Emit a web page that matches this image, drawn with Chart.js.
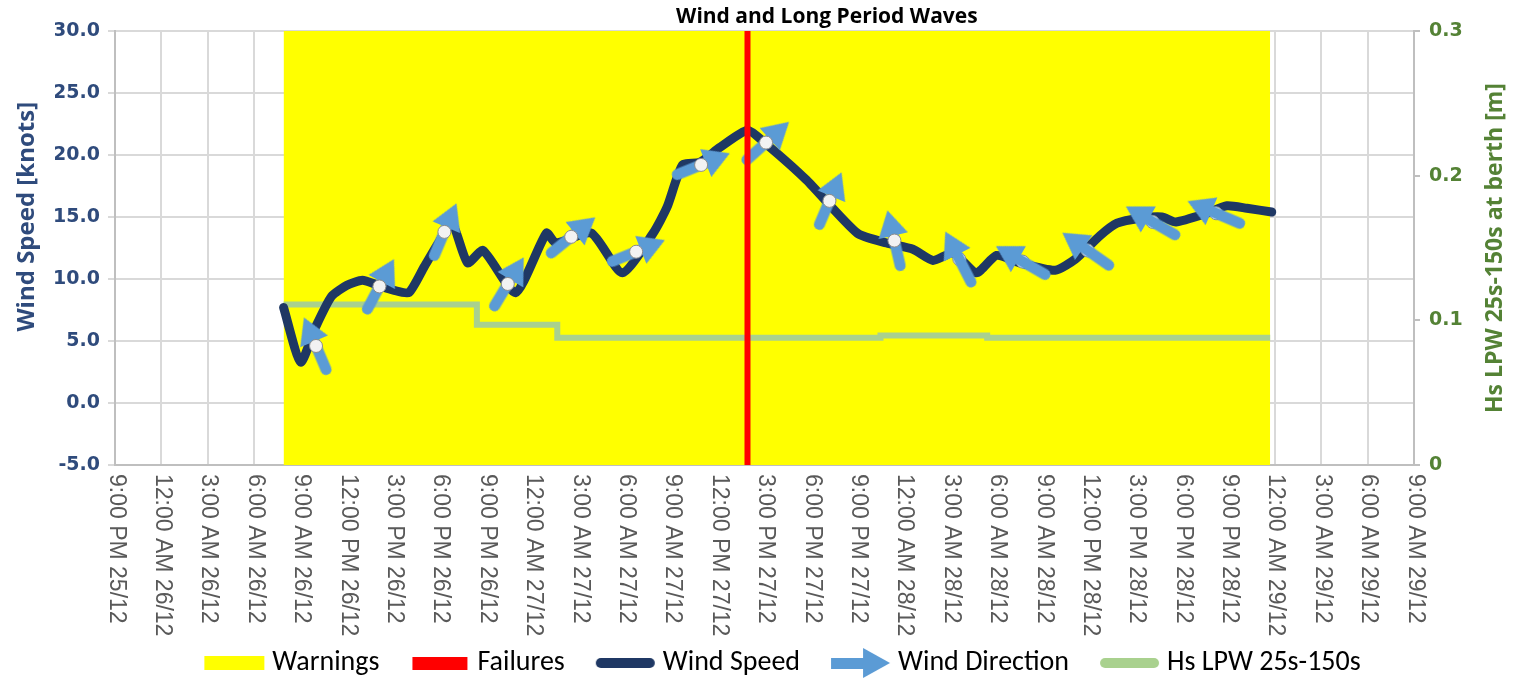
<!DOCTYPE html>
<html><head><meta charset="utf-8">
<script src="https://cdn.jsdelivr.net/npm/chart.js@4.4.1/dist/chart.umd.min.js"></script>
<style>html,body{margin:0;padding:0;background:#fff;overflow:hidden}</style>
</head><body>
<canvas id="c" width="1516" height="682"></canvas>
<script>
// ---- data (hours counted from 9:00 PM 25/12) ----
const xTickLabels = [
  "9:00 PM 25/12","12:00 AM 26/12","3:00 AM 26/12","6:00 AM 26/12","9:00 AM 26/12",
  "12:00 PM 26/12","3:00 PM 26/12","6:00 PM 26/12","9:00 PM 26/12","12:00 AM 27/12",
  "3:00 AM 27/12","6:00 AM 27/12","9:00 AM 27/12","12:00 PM 27/12","3:00 PM 27/12",
  "6:00 PM 27/12","9:00 PM 27/12","12:00 AM 28/12","3:00 AM 28/12","6:00 AM 28/12",
  "9:00 AM 28/12","12:00 PM 28/12","3:00 PM 28/12","6:00 PM 28/12","9:00 PM 28/12",
  "12:00 AM 29/12","3:00 AM 29/12","6:00 AM 29/12","9:00 AM 29/12"];
const windHours = [10.9,12.0,13.0,14.0,15.0,16.0,17.0,18.0,19.0,20.0,21.0,21.8,22.8,23.8,25.9,27.9,28.5,30.8,32.8,34.8,35.7,36.7,37.8,39.1,40.9,42.0,44.7,48.0,49.9,51.6,52.9,54.2,55.7,57.0,58.5,60.8,62.1,63.7,64.8,66.3,67.7,68.6,70.6,71.9,73.2,74.8];
const windSpeed = [7.7,3.3,6.2,8.6,9.5,9.9,9.5,9.1,8.9,11.0,13.1,14.5,11.3,12.3,8.9,13.7,12.9,13.7,10.5,13.7,15.8,19.2,19.4,20.6,22.0,21.0,18.0,13.7,12.9,12.4,11.5,12.1,10.5,11.9,11.3,10.7,11.6,13.5,14.5,14.9,15.0,14.6,15.3,15.9,15.7,15.4];
const dirHours = [13.0,17.1,21.3,25.4,29.5,33.7,37.9,42.1,46.2,50.4,54.6,58.7,62.9,67.1,71.2];
const dirSpeed = [4.6,9.4,13.8,9.6,13.4,12.2,19.2,21.0,16.3,13.1,11.6,11.4,12.3,14.6,15.3];
const dirBearing = [337,28,23,31,51,68,68,48,23,347,333,300,305,300,293];
const lpwHours = [10.9,23.4,28.6,49.5,56.4,74.7];
const lpwHs = [0.111,0.097,0.088,0.0895,0.088,0.088];
const warningHours = [10.9,74.7];
const failureHours = [40.9];
const speedTicks = {min:-5, max:30, step:5};
const hsTicks = {min:0, max:0.3, step:0.1};

// ---- styles ----
const C = {yellow:'#FFFF00', red:'#FF0000', navy:'#1F3864', arrow:'#5B9BD5', green:'#A9D18E',
  leftTxt:'#2F4B7C', rightTxt:'#548235', grid:'#D9D9D9', axis:'#BFBFBF', xTxt:'#595959'};

function cv(w,h,fn){const c=document.createElement('canvas');c.width=w;c.height=h;fn(c.getContext('2d'));return c;}
const arrowUp = cv(30,62,g=>{
  g.fillStyle=C.arrow; g.strokeStyle=C.arrow;
  g.lineWidth=11; g.lineCap='round';
  g.beginPath(); g.moveTo(15,22); g.lineTo(15,56.5); g.stroke();
  g.beginPath(); g.moveTo(15,0); g.lineTo(30,26); g.lineTo(0,26); g.closePath(); g.fill();
});
const lgYellow = cv(62,16,g=>{g.fillStyle=C.yellow;g.fillRect(1,1,60,14);});
const lgRed = cv(62,16,g=>{g.fillStyle=C.red;g.fillRect(4,2,55,13);});
const lgLine = col=>cv(62,16,g=>{g.strokeStyle=col;g.lineWidth=10;g.lineCap='round';g.beginPath();g.moveTo(7,8);g.lineTo(56,8);g.stroke();});
const lgArrow = cv(62,32,g=>{g.fillStyle=C.arrow;g.fillRect(2,11,36,11);g.beginPath();g.moveTo(34,1);g.lineTo(61,16);g.lineTo(34,31);g.closePath();g.fill();});

const pts = (xs,ys)=>xs.map((x,i)=>({x:x,y:ys[i]}));
const TOP_MARKERS = 10;
const PAD_LEFT = 55;

const extras = {
  id:'extras',
  afterDraw(chart){
    const ctx=chart.ctx, a=chart.chartArea, xs=chart.scales.x;
    ctx.save();
    // x tick labels, rotated clockwise
    ctx.font='23px "Liberation Sans", Arial, sans-serif';
    ctx.fillStyle=C.xTxt; ctx.textAlign='left'; ctx.textBaseline='middle';
    xTickLabels.forEach((lab,i)=>{
      const px=xs.getPixelForValue(i*3);
      ctx.save(); ctx.translate(px+1,a.bottom+9); ctx.rotate(Math.PI/2); ctx.fillText(lab,0,0); ctx.restore();
    });
    // title
    ctx.font='bold 21px "Open Sans", sans-serif'; ctx.fillStyle='#000'; ctx.textAlign='center';
    ctx.fillText('Wind and Long Period Waves', a.left+(a.right-a.left)*0.548, 17);
    // axis titles
    ctx.font='bold 24px "Open Sans", sans-serif';
    ctx.fillStyle=C.leftTxt;
    ctx.save(); ctx.translate(27, a.top+(a.bottom-a.top)*0.428); ctx.rotate(-Math.PI/2); ctx.fillText('Wind Speed [knots]',0,0); ctx.restore();
    ctx.font='bold 23px "Open Sans", sans-serif';
    ctx.fillStyle=C.rightTxt;
    ctx.save(); ctx.translate(1495, a.top+(a.bottom-a.top)*0.5); ctx.rotate(-Math.PI/2); ctx.fillText('Hs LPW 25s-150s at berth [m]',0,0); ctx.restore();
    ctx.restore();
  }
};

function build(){
  new Chart(document.getElementById('c'), {
    type:'line',
    data:{datasets:[
      {label:'Warnings', data:warningHours.map(h=>({x:h,y:speedTicks.max})), fill:{value:speedTicks.min},
        backgroundColor:C.yellow, borderWidth:0, pointRadius:0, order:6},
      {label:'Hs LPW 25s-150s', yAxisID:'y1', data:pts(lpwHours,lpwHs), stepped:'before',
        borderColor:C.green, borderWidth:6, pointRadius:0, order:5},
      {label:'Wind Speed', data:pts(windHours,windSpeed), borderColor:C.navy, borderWidth:9,
        tension:0.2, borderCapStyle:'round', borderJoinStyle:'round', pointRadius:0, order:4},
      {label:'markersBelow', data:pts(dirHours,dirSpeed).slice(TOP_MARKERS), showLine:false,
        pointStyle:'circle', pointRadius:6.5, pointBackgroundColor:'#F2F2F2', pointBorderColor:'#8C8C8C', pointBorderWidth:1, order:3},
      {label:'Wind Direction', data:pts(dirHours,dirSpeed), showLine:false, pointStyle:arrowUp,
        pointRotation:dirBearing, pointRadius:10, order:2},
      {label:'markersTop', data:pts(dirHours,dirSpeed).slice(0,TOP_MARKERS), showLine:false,
        pointStyle:'circle', pointRadius:6.5, pointBackgroundColor:'#F2F2F2', pointBorderColor:'#8C8C8C', pointBorderWidth:1, order:1},
      {label:'Failures', data:failureHours.flatMap(h=>[{x:h,y:speedTicks.min},{x:h,y:speedTicks.max}]),
        borderColor:C.red, borderWidth:6, pointRadius:0, order:0}
    ]},
    options:{
      responsive:false, animation:false, events:[],
      layout:{padding:{top:31,left:PAD_LEFT,right:0,bottom:-5}},
      scales:{
        x:{type:'linear', min:0, max:84,
          ticks:{stepSize:3, display:false, autoSkip:false},
          grid:{color:C.grid, lineWidth:2, drawTicks:false},
          border:{color:C.axis, width:2},
          afterFit:s=>{s.height=687-75-464;}},
        y:{position:'left', min:speedTicks.min, max:speedTicks.max,
          ticks:{stepSize:speedTicks.step, callback:v=>Number(v).toFixed(1), color:C.leftTxt, padding:8,
            font:{family:'"DejaVu Sans", sans-serif', weight:'bold', size:19}},
          grid:{color:C.grid, lineWidth:2, tickLength:7},
          border:{color:C.axis, width:2},
          afterFit:s=>{s.width=115-PAD_LEFT;}},
        y1:{position:'right', min:hsTicks.min, max:hsTicks.max,
          ticks:{stepSize:hsTicks.step, callback:v=>v===0?'0':Number(v).toFixed(1), color:C.rightTxt, padding:9,
            font:{family:'"DejaVu Sans", sans-serif', weight:'bold', size:19}},
          grid:{drawOnChartArea:false, color:C.axis, lineWidth:2, tickLength:6},
          border:{color:C.axis, width:2},
          afterFit:s=>{s.width=102;}}
      },
      plugins:{
        tooltip:{enabled:false},
        title:{display:false},
        legend:{position:'bottom',
          labels:{usePointStyle:true, pointStyleWidth:48, padding:36, color:'#1a1a1a',
            font:{family:'Carlito, "Liberation Sans Narrow", Lato, sans-serif', size:28},
            generateLabels:()=>[
              {text:'Warnings', pointStyle:lgYellow, lineWidth:0, hidden:false, datasetIndex:0},
              {text:'Failures', pointStyle:lgRed, lineWidth:0, hidden:false, datasetIndex:6},
              {text:'Wind Speed', pointStyle:lgLine(C.navy), lineWidth:0, hidden:false, datasetIndex:2},
              {text:'Wind Direction', pointStyle:lgArrow, lineWidth:0, hidden:false, datasetIndex:4},
              {text:'Hs LPW 25s-150s', pointStyle:lgLine(C.green), lineWidth:0, hidden:false, datasetIndex:1}
            ]}}
      }
    },
    plugins:[extras]
  });
}
build();
</script>
</body></html>
